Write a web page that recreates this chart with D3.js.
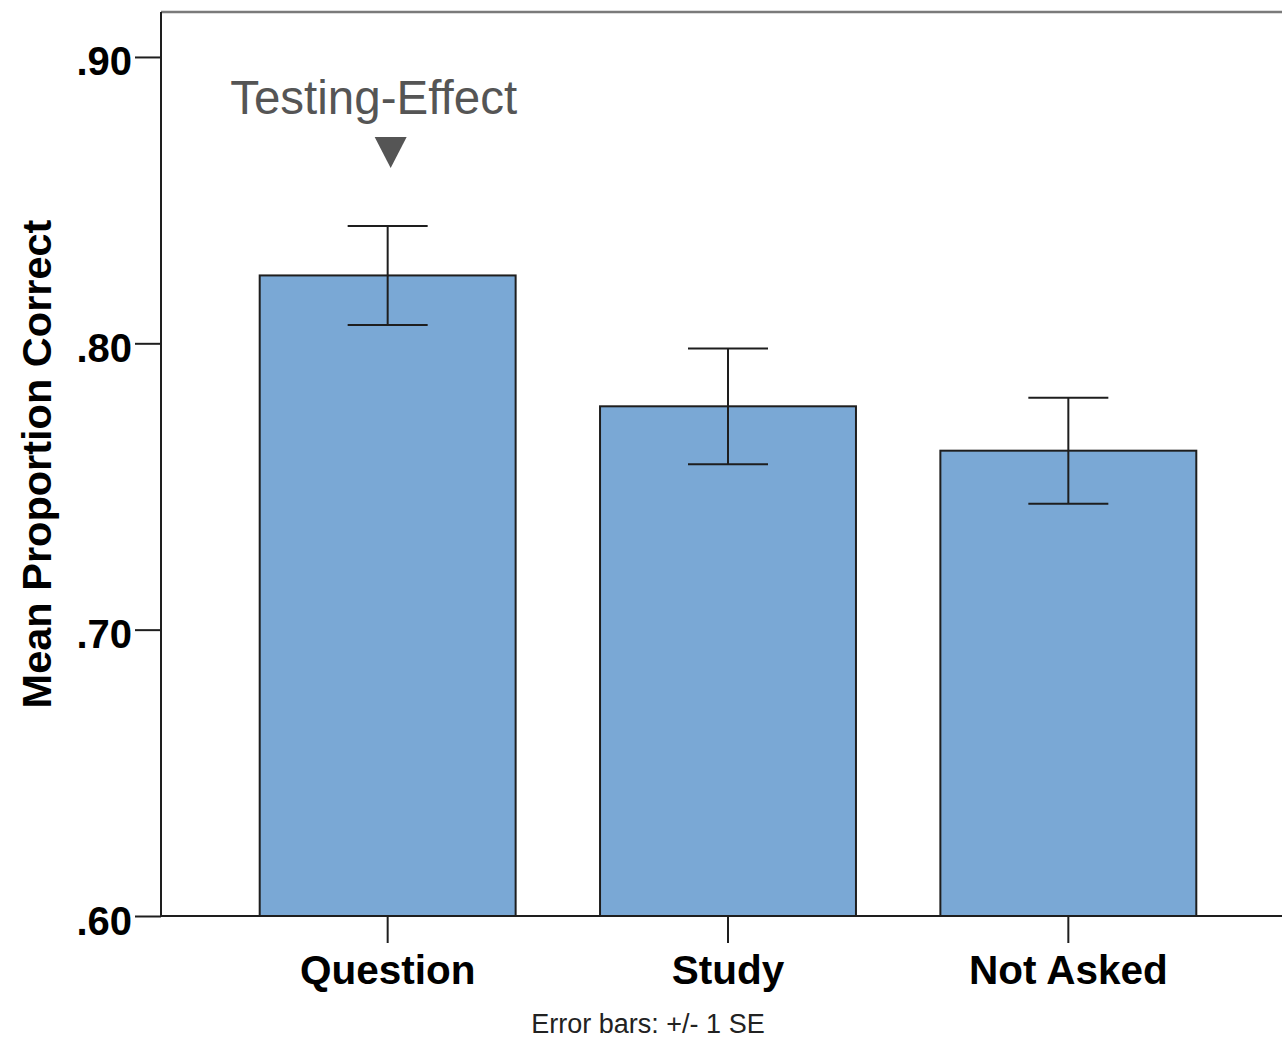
<!DOCTYPE html>
<html>
<head>
<meta charset="utf-8">
<script src="https://cdn.jsdelivr.net/npm/d3@7"></script>
<style>
  html, body { margin: 0; padding: 0; background: #fff; }
  svg { display: block; }
</style>
</head>
<body>
<script>
// values
const categories = ["Question", "Study", "Not Asked"];
const means = [0.8237, 0.778, 0.7625];
const stdErr = [0.0173, 0.0202, 0.0185];
const yTicks = [0.60, 0.70, 0.80, 0.90];
const annotation = "Testing-Effect";
const footnote = "Error bars:  +/- 1 SE";

const width = 1282, height = 1039;
const plotLeft = 161, plotRight = 1295, plotTop = 12, plotBottom = 916;

const font = "'Liberation Sans', Arial, sans-serif";

const svg = d3.select("body").append("svg")
    .attr("width", width)
    .attr("height", height);

const x = d3.scaleBand()
    .domain(categories)
    .range([plotLeft, plotRight])
    .paddingInner(0.248)
    .paddingOuter(0.29);

const y = d3.scaleLinear()
    .domain([0.6, 0.9157])
    .range([plotBottom, plotTop]);

const rows = categories.map((c, i) => ({ name: c, mean: means[i], se: stdErr[i] }));

// frame: top border in grey
svg.append("line")
    .attr("x1", plotLeft).attr("x2", plotRight)
    .attr("y1", plotTop).attr("y2", plotTop)
    .attr("stroke", "#7a7a7a")
    .attr("stroke-width", 2.5);

// bars
svg.append("g")
    .selectAll("rect")
    .data(rows)
    .join("rect")
    .attr("x", d => x(d.name))
    .attr("y", d => y(d.mean))
    .attr("width", x.bandwidth())
    .attr("height", d => y(0.6) - y(d.mean))
    .attr("fill", "#7aa8d5")
    .attr("stroke", "#1e1e1e")
    .attr("stroke-width", 2);

// error bars
const capHalf = 40;
const err = svg.append("g")
    .attr("stroke", "#1e1e1e")
    .attr("stroke-width", 2)
    .selectAll("g")
    .data(rows)
    .join("g")
    .attr("transform", d => `translate(${x(d.name) + x.bandwidth() / 2},0)`);

err.append("line")
    .attr("y1", d => y(d.mean + d.se))
    .attr("y2", d => y(d.mean - d.se));
err.append("line")
    .attr("x1", -capHalf).attr("x2", capHalf)
    .attr("y1", d => y(d.mean + d.se)).attr("y2", d => y(d.mean + d.se));
err.append("line")
    .attr("x1", -capHalf).attr("x2", capHalf)
    .attr("y1", d => y(d.mean - d.se)).attr("y2", d => y(d.mean - d.se));

// y axis
const yAxis = svg.append("g")
    .attr("transform", `translate(${plotLeft},0)`)
    .call(d3.axisLeft(y)
        .tickValues(yTicks)
        .tickSize(26)
        .tickPadding(3)
        .tickFormat(d => d3.format(".2f")(d).replace(/^0/, "")));
yAxis.select(".domain")
    .attr("d", `M0,${plotTop}V${plotBottom}`)
    .attr("stroke", "#1e1e1e")
    .attr("stroke-width", 2);
yAxis.selectAll(".tick line").attr("stroke", "#1e1e1e").attr("stroke-width", 2);
yAxis.selectAll(".tick text")
    .attr("dy", "0.45em")
    .style("font-family", font)
    .style("font-weight", "bold")
    .style("font-size", "40px")
    .attr("fill", "#000");

// x axis
const xAxis = svg.append("g")
    .attr("transform", `translate(0,${plotBottom})`)
    .call(d3.axisBottom(x).tickSize(27).tickPadding(12));
xAxis.select(".domain")
    .attr("d", `M${plotLeft},0H${plotRight}`)
    .attr("stroke", "#1e1e1e")
    .attr("stroke-width", 2);
xAxis.selectAll(".tick line").attr("stroke", "#1e1e1e").attr("stroke-width", 2);
xAxis.selectAll(".tick text")
    .style("font-family", font)
    .style("font-weight", "bold")
    .style("font-size", "40.5px")
    .attr("fill", "#000");

// y axis title
svg.append("text")
    .attr("transform", `translate(51,464) rotate(-90)`)
    .attr("text-anchor", "middle")
    .style("font-family", font)
    .style("font-weight", "bold")
    .style("font-size", "41.5px")
    .attr("fill", "#000")
    .text("Mean Proportion Correct");

// annotation above the first bar
const cx = x(categories[0]) + x.bandwidth() / 2;
svg.append("text")
    .attr("x", cx - 14)
    .attr("y", 114)
    .attr("text-anchor", "middle")
    .style("font-family", font)
    .style("font-size", "47.5px")
    .attr("fill", "#555")
    .text(annotation);

svg.append("path")
    .attr("d", d3.line()([[cx - 13, 137], [cx + 19, 137], [cx + 3, 168]]) + "Z")
    .attr("fill", "#555");

// footnote
svg.append("text")
    .attr("x", 648)
    .attr("y", 1033)
    .attr("text-anchor", "middle")
    .style("font-family", font)
    .style("font-size", "27px")
    .attr("fill", "#222")
    .text(footnote);
</script>
</body>
</html>
